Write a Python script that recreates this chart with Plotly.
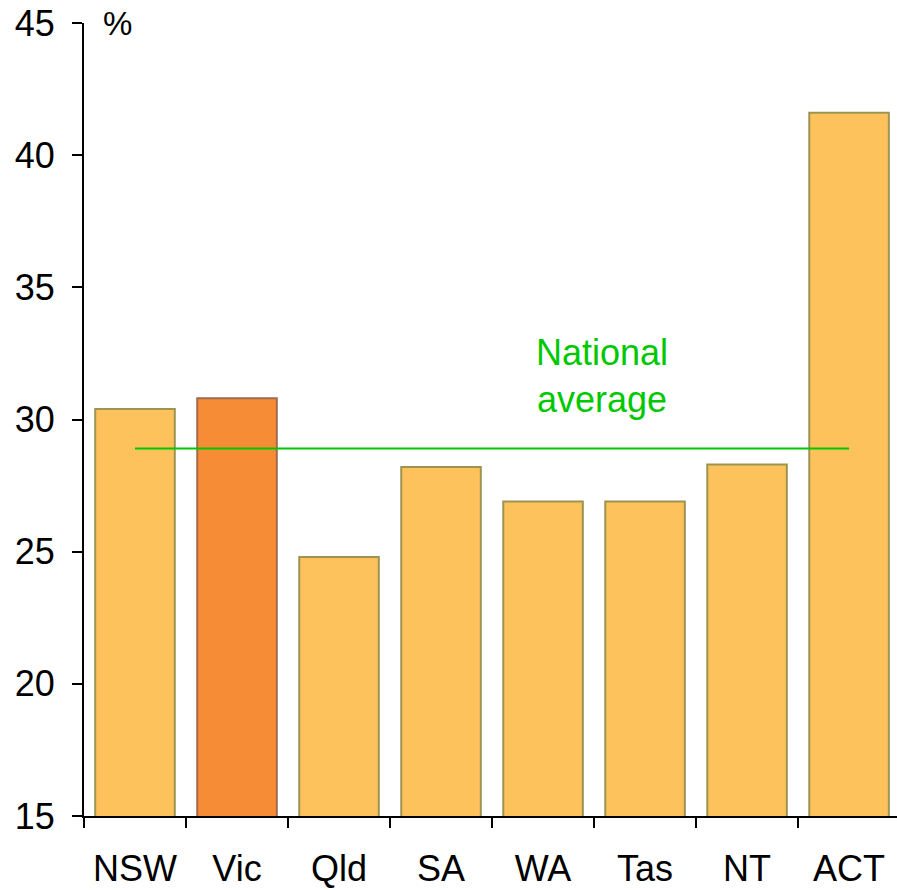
import plotly.graph_objects as go

states = ["NSW", "Vic", "Qld", "SA", "WA", "Tas", "NT", "ACT"]
values = [30.4, 30.8, 24.8, 28.2, 26.9, 26.9, 28.3, 41.6]
highlight = "Vic"
national_average = 28.9
y_ticks = [15, 20, 25, 30, 35, 40, 45]

FONT = "Liberation Sans, Arial, sans-serif"
fills = ["#F68D36" if s == highlight else "#FDC25B" for s in states]
lines = ["#A06A4C" if s == highlight else "#9C9450" for s in states]

fig = go.Figure()
fig.add_trace(go.Bar(
    x=states, y=values,
    marker=dict(color=fills, line=dict(color=lines, width=2)),
    width=0.78,
    showlegend=False,
))
fig.add_trace(go.Scatter(
    x=[states[0], states[-1]], y=[national_average, national_average],
    mode="lines", line=dict(color="#00C800", width=2),
    showlegend=False,
))

fig.add_annotation(
    x=4.58, y=31.65, xref="x", yref="y",
    text="National<br>average", showarrow=False,
    xanchor="center", yanchor="middle",
    font=dict(family=FONT, size=36, color="#00C800"),
    align="center",
)
fig.add_annotation(
    x=(117 - 84) / 813, y=1.0, xref="paper", yref="paper",
    text="%", showarrow=False, xanchor="center", yanchor="middle",
    font=dict(family=FONT, size=33, color="black"),
)

fig.update_layout(
    width=897, height=890,
    margin=dict(l=84, r=0, t=23, b=74, autoexpand=False),
    paper_bgcolor="white", plot_bgcolor="white",
    bargap=0.22,
    font=dict(family=FONT, size=36, color="black"),
)
fig.update_xaxes(
    range=[-0.5, 7.47],
    showline=True, linecolor="black", linewidth=2,
    ticks="outside", tickson="boundaries", ticklen=10, tickwidth=2, tickcolor="black",
    showgrid=False, zeroline=False,
    tickfont=dict(family=FONT, size=36, color="black"),
    ticklabelstandoff=20,
)
fig.update_yaxes(
    range=[15, 45], tickvals=y_ticks,
    showline=True, linecolor="black", linewidth=2,
    ticks="outside", ticklen=10, tickwidth=2, tickcolor="black",
    showgrid=False, zeroline=False,
    tickfont=dict(family=FONT, size=36, color="black"),
    ticklabelstandoff=10,
)

fig.write_html(
    "out.html",
    config={"displayModeBar": False},
    post_script="document.body.style.margin='0px';document.body.style.overflow='hidden';",
)
